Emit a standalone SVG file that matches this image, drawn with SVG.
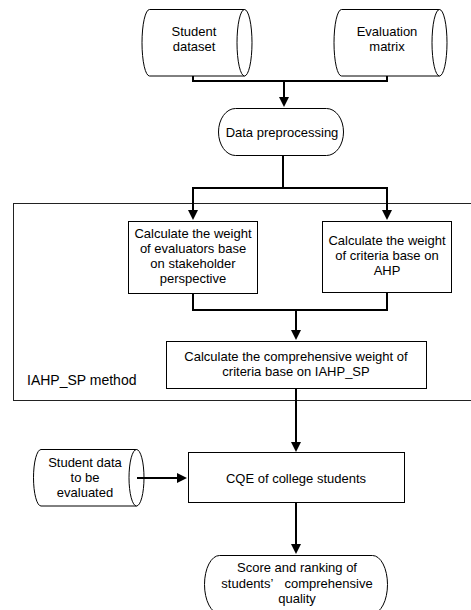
<svg xmlns="http://www.w3.org/2000/svg" width="471" height="610" viewBox="0 0 471 610">
<style>
.shape{fill:#fff;stroke:#000;stroke-width:1}
.grp{fill:none;stroke:#222;stroke-width:1}
.conn{fill:none;stroke:#000;stroke-width:2}
text{font-family:"Liberation Sans",Arial,sans-serif;font-size:13px;fill:#000;text-anchor:middle}
.lbl{text-anchor:start;font-size:14px}
</style>
<defs>
<marker id="arr" viewBox="0 0 10 10" refX="8" refY="5" markerWidth="10" markerHeight="10" markerUnits="userSpaceOnUse" orient="auto">
<path d="M0,0 L10,5 L0,10 z" fill="#000"/>
</marker>
</defs>
<rect fill="#fff" x="0" y="0" width="471" height="610"/>
<g id="group-iahp">
<rect class="grp" x="13.5" y="203.5" width="470" height="197"/>
<text class="lbl" x="27" y="385">IAHP_SP method</text>
</g>
<g id="student-dataset">
<path class="shape" d="M149.5,9.5 H244.5 V76 H149.5 A7.5,33.25 0 0 1 149.5,9.5 z"/>
<ellipse class="shape" cx="244.5" cy="42.75" rx="7.5" ry="33.25"/>
<text x="194" y="36">Student</text>
<text x="194" y="51">dataset</text>
</g>
<g id="evaluation-matrix">
<path class="shape" d="M341.5,9.5 H439.5 V76 H341.5 A7.5,33.25 0 0 1 341.5,9.5 z"/>
<ellipse class="shape" cx="439.5" cy="42.75" rx="7.5" ry="33.25"/>
<text x="387" y="36">Evaluation</text>
<text x="387" y="51">matrix</text>
</g>
<g id="data-preprocessing">
<rect class="shape" x="218.5" y="108.5" width="125" height="47" rx="17" ry="23.5"/>
<text x="282" y="137">Data preprocessing</text>
</g>
<g id="weight-evaluators">
<rect class="shape" x="128.5" y="221.5" width="129" height="72"/>
<text x="193" y="238">Calculate the weight</text>
<text x="193" y="253">of evaluators base</text>
<text x="193" y="268">on stakeholder</text>
<text x="193" y="283">perspective</text>
</g>
<g id="weight-criteria">
<rect class="shape" x="322.5" y="221.5" width="129" height="71"/>
<text x="387" y="245">Calculate the weight</text>
<text x="387" y="260">of criteria base on</text>
<text x="387" y="275">AHP</text>
</g>
<g id="comprehensive-weight">
<rect class="shape" x="166.5" y="341.5" width="260" height="47"/>
<text x="296" y="361">Calculate the comprehensive weight of</text>
<text x="296" y="376">criteria base on IAHP_SP</text>
</g>
<g id="student-data-eval">
<path class="shape" d="M41,449.5 H136.5 V506 H41 A7.5,28.25 0 0 1 41,449.5 z"/>
<ellipse class="shape" cx="136.5" cy="477.75" rx="7.5" ry="28.25"/>
<text x="85" y="467">Student data</text>
<text x="85" y="482">to be</text>
<text x="85" y="497">evaluated</text>
</g>
<g id="cqe">
<rect class="shape" x="188.5" y="452.5" width="216" height="50"/>
<text x="296" y="483">CQE of college students</text>
</g>
<g id="score-ranking">
<rect class="shape" x="204.5" y="555.5" width="183" height="58" rx="15" ry="29"/>
<text x="297" y="572">Score and ranking of</text>
<text x="297" y="588">students’<tspan dx="8"> comprehensive</tspan></text>
<text x="297" y="603">quality</text>
</g>
<g id="connectors">
<path class="conn" d="M193,76 V81 H387 V76"/>
<path class="conn" d="M284,81 V105" marker-end="url(#arr)"/>
<path class="conn" d="M283,155 V188"/>
<path class="conn" d="M193,188 H387"/>
<path class="conn" d="M193,187 V218" marker-end="url(#arr)"/>
<path class="conn" d="M387,187 V218" marker-end="url(#arr)"/>
<path class="conn" d="M193,293 V310 H387 V292"/>
<path class="conn" d="M296,310 V338" marker-end="url(#arr)"/>
<path class="conn" d="M296,388 V450" marker-end="url(#arr)"/>
<path class="conn" d="M137,478 H185" marker-end="url(#arr)"/>
<path class="conn" d="M296,502 V552" marker-end="url(#arr)"/>
</g>
</svg>
